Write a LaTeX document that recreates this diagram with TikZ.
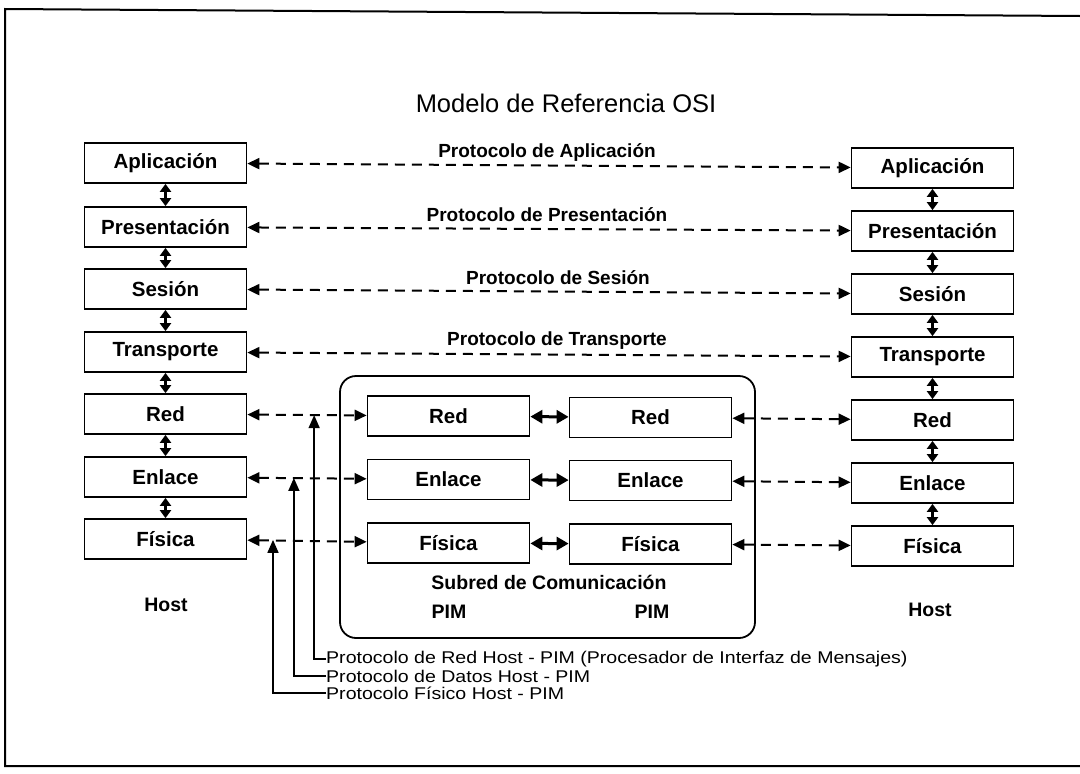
\documentclass[tikz,border=0pt]{standalone}
\usepackage{fontspec}
\setmainfont{Liberation Sans}
\usepackage{graphicx}
\usetikzlibrary{arrows.meta,calc}

% horizontally widened text for the notes at the foot
\newcommand\widetxt[1]{\scalebox{1.15}[1]{#1}}

\begin{document}
\begin{tikzpicture}[x=1pt,y=-1pt,
  layer/.style={draw, line width=1.7pt, minimum width=162pt, minimum height=40pt,
    inner sep=0pt, font=\fontsize{20.5}{24}\selectfont\bfseries},
  caption/.style={inner sep=0pt, font=\fontsize{19.5}{23}\selectfont\bfseries},
  plabel/.style={inner sep=0pt, font=\fontsize{19}{22}\selectfont\bfseries},
  note/.style={inner sep=0pt, anchor=west, font=\fontsize{17}{20}\selectfont},
  peer/.style={line width=2pt, dash pattern=on 10pt off 7pt,
    {Triangle[length=12pt,width=11pt]}-{Triangle[length=12pt,width=11pt]}},
  stack/.style={line width=2.5pt,
    {Triangle[length=8pt,width=11pt]}-{Triangle[length=8pt,width=11pt]}},
  link/.style={line width=3pt,
    {Triangle[length=12pt,width=13pt]}-{Triangle[length=12pt,width=13pt]}},
  pointer/.style={line width=1.6pt, -{Triangle[length=13pt,width=11pt]}},
]
\useasboundingbox (0,0) rectangle (1080,774);

% outer frame
\draw[line width=2pt] (1080,16) -- (5,9) -- (5,766) -- (1080,766);

% title
\node[font=\fontsize{25.5}{30}\selectfont, inner sep=0pt] (title) at (566,103) {Modelo de Referencia OSI};

% communication subnet
\draw[line width=1.8pt, rounded corners=16pt] (340,376) rectangle (755,638);

% left host
\node[layer] (lA) at (165.5,163) {Aplicación};
\node[layer] (lP) at (165.5,227) {Presentación};
\node[layer] (lS) at (165.5,289) {Sesión};
\node[layer] (lT) at (165.5,352) {Transporte};
\node[layer] (lR) at (165.5,414) {Red};
\node[layer] (lE) at (165.5,477) {Enlace};
\node[layer] (lF) at (165.5,539) {Física};
\node[caption] (lH) at (166,605) {Host};

% right host
\node[layer] (rA) at (932.5,168) {Aplicación};
\node[layer] (rP) at (932.5,231) {Presentación};
\node[layer] (rS) at (932.5,294) {Sesión};
\node[layer] (rT) at (932.5,357) {Transporte};
\node[layer] (rR) at (932.5,420) {Red};
\node[layer] (rE) at (932.5,483) {Enlace};
\node[layer] (rF) at (932.5,546) {Física};
\node[caption] (rH) at (930,610) {Host};

% PIM nodes
\node[layer] (aR) at (448.5,416) {Red};
\node[layer] (aE) at (448.5,479.5) {Enlace};
\node[layer] (aF) at (448.5,543) {Física};
\node[layer] (bR) at (650.5,417.5) {Red};
\node[layer] (bE) at (650.5,480.5) {Enlace};
\node[layer] (bF) at (650.5,544) {Física};
\node[caption] (sub) at (549,582) {Subred de Comunicación};
\node[caption] (pimA) at (449,612) {PIM};
\node[caption] (pimB) at (652,612) {PIM};

% vertical interfaces
\foreach \p in {l,r}{
  \draw[stack] (\p A) -- (\p P);
  \draw[stack] (\p P) -- (\p S);
  \draw[stack] (\p S) -- (\p T);
  \draw[stack] (\p T) -- (\p R);
  \draw[stack] (\p R) -- (\p E);
  \draw[stack] (\p E) -- (\p F);
}

% PIM to PIM
\draw[link] (aR) -- (bR);
\draw[link] (aE) -- (bE);
\draw[link] (aF) -- (bF);

% end-to-end peer protocols
\draw[peer] (lA) -- (rA);
\draw[peer] (lP) -- (rP);
\draw[peer] (lS) -- (rS);
\draw[peer] (lT) -- (rT);
\node[plabel] at (547,153) {Protocolo de Aplicación};
\node[plabel] at (547,215) {Protocolo de Presentación};
\node[plabel] at (558,278) {Protocolo de Sesión};
\node[plabel] at (557,341) {Protocolo de Transporte};

% host to PIM peers
\draw[peer] (lR) -- (aR);
\draw[peer] (lE) -- (aE);
\draw[peer] (lF) -- (aF);
\draw[peer] (bR) -- (rR);
\draw[peer] (bE) -- (rE);
\draw[peer] (bF) -- (rF);

% points on the host-PIM lines
\coordinate (cR) at ($(lR.east)!0.56!(aR.west)$);
\coordinate (cE) at ($(lE.east)!0.39!(aE.west)$);
\coordinate (cF) at ($(lF.east)!0.215!(aF.west)$);

% notes
\node[note] (nR) at (326,659) {\widetxt{Protocolo de Red Host - PIM (Procesador de Interfaz de Mensajes)}};
\node[note] (nE) at (326,676) {\widetxt{Protocolo de Datos Host - PIM}};
\node[note] (nF) at (326,693) {\widetxt{Protocolo Físico Host - PIM}};

\draw[pointer] (nR.west) -| (cR);
\draw[pointer] (nE.west) -| (cE);
\draw[pointer] (nF.west) -| (cF);
\end{tikzpicture}
\end{document}
